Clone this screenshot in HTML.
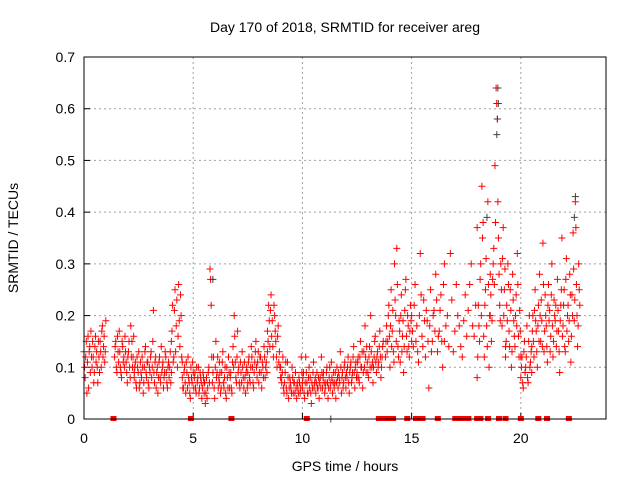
<!DOCTYPE html>
<html><head><meta charset="utf-8"><style>
body{margin:0;background:#fff}
svg{display:block;font-family:"Liberation Sans",sans-serif}
</style></head><body>
<svg id="chart" width="640" height="480">
<rect width="640" height="480" fill="#fff"/>
<text x="345" y="32" text-anchor="middle" font-size="14">Day 170 of 2018, SRMTID for receiver areg</text>
<text x="345" y="471" text-anchor="middle" font-size="14">GPS time / hours</text>
<text transform="translate(18,238) rotate(-90)" text-anchor="middle" font-size="14">SRMTID / TECUs</text>
<g id="grid"></g>
<g id="ticks"></g>
<g id="marks"></g>
<rect x="84" y="57" width="522" height="362" fill="none" stroke="#000" stroke-width="1"/>
</svg>
<script>
const xTicks=[0,5,10,15,20];
const yTicks=[0,0.1,0.2,0.3,0.4,0.5,0.6,0.7];
const yTickLabels=["0","0.1","0.2","0.3","0.4","0.5","0.6","0.7"];
const segStarts=[0.0,1.4,2.3,4.0,4.5,5.5,6.2,7.5,8.4,9.0,10.0,12.5,13.8,15.0,16.5,18.0,18.6,19.3,20.0,20.5];
const segEnds=[1.0,2.3,4.0,4.5,5.5,6.2,7.5,8.4,9.0,10.0,12.5,13.7,15.0,16.5,18.0,18.6,19.3,20.0,20.5,22.7];
const segValues=[
[0.13,0.08,0.15,0.11,0.06,0.14,0.17,0.10,0.12,0.09,0.16,0.13,0.07,0.12,0.15,0.10,0.18,0.14,0.11,0.19],
[0.12,0.15,0.09,0.13,0.17,0.10,0.08,0.14,0.12,0.16,0.11,0.07,0.13,0.10,0.18,0.15,0.12,0.09],
[0.08,0.11,0.06,0.10,0.13,0.07,0.09,0.12,0.05,0.10,0.14,0.08,0.11,0.06,0.09,0.13,0.10,0.21,0.07,0.12,0.09,0.05,0.11,0.08,0.14,0.10,0.06,0.09,0.12,0.07,0.10,0.08,0.13,0.09],
[0.15,0.22,0.12,0.25,0.18,0.10,0.26,0.14,0.20,0.11],
[0.08,0.06,0.10,0.05,0.09,0.12,0.07,0.04,0.08,0.11,0.06,0.09,0.05,0.07,0.10,0.06,0.08,0.04,0.09,0.07],
[0.05,0.03,0.08,0.06,0.10,0.29,0.22,0.07,0.12,0.04,0.15,0.09,0.06,0.11],
[0.07,0.05,0.09,0.13,0.06,0.10,0.04,0.08,0.12,0.06,0.09,0.05,0.14,0.20,0.11,0.07,0.17,0.10,0.06,0.09,0.13,0.08,0.11,0.05,0.10,0.07],
[0.09,0.12,0.07,0.14,0.10,0.06,0.11,0.15,0.08,0.13,0.09,0.12,0.06,0.10,0.14,0.08,0.11,0.13],
[0.17,0.22,0.14,0.24,0.19,0.12,0.20,0.15,0.10,0.18,0.13,0.08],
[0.10,0.07,0.12,0.05,0.09,0.06,0.11,0.04,0.08,0.06,0.10,0.05,0.07,0.09,0.04,0.06,0.08,0.05,0.12,0.07],
[0.06,0.09,0.04,0.12,0.07,0.05,0.10,0.08,0.03,0.06,0.11,0.07,0.05,0.09,0.06,0.04,0.08,0.12,0.06,0.09,0.05,0.07,0.10,0.04,0.08,0.06,0.11,0.05,0.09,0.07,0.04,0.10,0.06,0.08,0.13,0.05,0.09,0.07,0.11,0.06,0.08,0.12,0.05,0.10,0.07,0.09,0.14,0.06,0.11,0.08],
[0.09,0.12,0.07,0.15,0.10,0.06,0.13,0.18,0.09,0.11,0.08,0.14,0.20,0.10,0.07,0.12,0.16,0.09,0.13,0.11,0.17,0.08,0.12,0.15],
[0.12,0.18,0.15,0.22,0.10,0.25,0.17,0.13,0.30,0.20,0.33,0.14,0.19,0.11,0.24,0.16,0.09,0.21,0.27,0.13,0.18,0.12,0.22,0.15],
[0.20,0.14,0.26,0.18,0.11,0.32,0.16,0.23,0.12,0.19,0.06,0.25,0.15,0.21,0.28,0.13,0.17,0.24,0.10,0.30],
[0.15,0.20,0.32,0.13,0.26,0.18,0.12,0.24,0.21,0.30,0.16,0.37],
[0.08,0.22,0.15,0.30,0.45,0.38,0.12,0.25,0.18,0.42,0.10,0.28],
[0.20,0.15,0.27,0.33,0.49,0.64,0.58,0.35,0.22,0.30,0.18,0.37,0.25,0.14],
[0.12,0.22,0.30,0.17,0.25,0.10,0.28,0.19,0.14,0.24,0.32,0.16,0.21,0.12],
[0.08,0.12,0.06,0.15,0.10,0.18,0.07,0.20,0.11,0.09],
[0.14,0.20,0.12,0.25,0.17,0.10,0.22,0.28,0.15,0.19,0.34,0.13,0.24,0.18,0.11,0.26,0.21,0.16,0.30,0.12,0.23,0.19,0.14,0.27,0.17,0.09,0.22,0.35,0.18,0.25,0.13,0.31,0.20,0.15,0.28,0.11,0.24,0.36,0.19,0.42,0.26,0.14,0.30,0.22]
];
const segValuesB=[
[0.10,0.12,0.05,0.16,0.13,0.09,0.12,0.15,0.07,0.14,0.11,0.10,0.15,0.09,0.13,0.17,0.12,0.16,0.13,0.15],
[0.14,0.10,0.16,0.11,0.13,0.09,0.15,0.11,0.10,0.13,0.09,0.12,0.15,0.08,0.12,0.10,0.16,0.11],
[0.10,0.07,0.12,0.09,0.06,0.11,0.08,0.10,0.07,0.13,0.09,0.11,0.07,0.10,0.12,0.08,0.15,0.09,0.11,0.06,0.10,0.08,0.12,0.07,0.09,0.11,0.08,0.13,0.09,0.06,0.11,0.10,0.07,0.12],
[0.17,0.11,0.21,0.13,0.23,0.16,0.19,0.24,0.12,0.15],
[0.06,0.09,0.07,0.11,0.06,0.08,0.05,0.10,0.07,0.09,0.08,0.06,0.10,0.08,0.05,0.09,0.07,0.06,0.08,0.06],
[0.07,0.05,0.04,0.09,0.07,0.27,0.12,0.09,0.06,0.10,0.08,0.12,0.08,0.07],
[0.09,0.06,0.11,0.07,0.08,0.05,0.10,0.06,0.09,0.08,0.06,0.11,0.10,0.16,0.08,0.12,0.09,0.07,0.11,0.07,0.10,0.06,0.08,0.09,0.06,0.09],
[0.11,0.08,0.10,0.12,0.07,0.09,0.13,0.10,0.11,0.07,0.12,0.09,0.11,0.08,0.12,0.10,0.09,0.12],
[0.15,0.19,0.21,0.16,0.14,0.22,0.17,0.12,0.16,0.11,0.10,0.09],
[0.08,0.09,0.06,0.07,0.11,0.05,0.08,0.06,0.07,0.05,0.08,0.07,0.05,0.06,0.07,0.05,0.07,0.06,0.09,0.08],
[0.08,0.05,0.07,0.09,0.05,0.08,0.06,0.05,0.07,0.09,0.06,0.08,0.07,0.06,0.08,0.07,0.06,0.09,0.08,0.07,0.06,0.09,0.07,0.06,0.10,0.07,0.08,0.07,0.06,0.09,0.07,0.08,0.09,0.07,0.10,0.08,0.06,0.10,0.08,0.09,0.10,0.07,0.09,0.11,0.08,0.12,0.09,0.10,0.08,0.10],
[0.11,0.08,0.12,0.10,0.13,0.09,0.10,0.12,0.14,0.09,0.12,0.10,0.13,0.11,0.10,0.15,0.11,0.12,0.10,0.14,0.12,0.10,0.14,0.11],
[0.15,0.13,0.20,0.16,0.18,0.14,0.21,0.11,0.23,0.15,0.26,0.12,0.17,0.20,0.13,0.19,0.14,0.25,0.16,0.20,0.14,0.17,0.19,0.13],
[0.17,0.22,0.15,0.13,0.20,0.24,0.14,0.19,0.21,0.15,0.18,0.13,0.20,0.17,0.23,0.16,0.21,0.15,0.26,0.19],
[0.18,0.14,0.23,0.17,0.20,0.14,0.19,0.16,0.26,0.18,0.22,0.28],
[0.12,0.18,0.27,0.20,0.35,0.16,0.22,0.31,0.14,0.26,0.20,0.18],
[0.24,0.19,0.30,0.26,0.38,0.61,0.42,0.28,0.19,0.25,0.31,0.20,0.29,0.17],
[0.15,0.19,0.26,0.14,0.21,0.13,0.23,0.16,0.20,0.18,0.26,0.12,0.17,0.10],
[0.10,0.07,0.13,0.09,0.12,0.08,0.15,0.10,0.13,0.12],
[0.17,0.15,0.21,0.19,0.13,0.18,0.15,0.20,0.23,0.14,0.26,0.17,0.20,0.14,0.22,0.19,0.13,0.24,0.18,0.15,0.20,0.22,0.17,0.21,0.13,0.19,0.25,0.16,0.22,0.14,0.27,0.17,0.22,0.19,0.24,0.16,0.20,0.29,0.23,0.37,0.20,0.18,0.25,0.19]
];
const zeroHours=[1.35,4.9,6.75,10.2,13.5,13.65,13.8,14.0,14.15,14.8,15.2,15.35,15.5,16.2,17.0,17.1,17.25,17.4,17.6,18.0,18.15,18.5,19.0,19.3,20.0,20.8,21.2,22.2];
const darkHours=[18.95,18.97,18.93,18.9,22.5,22.45,18.45,5.9,11.3];
const darkValues=[0.64,0.61,0.58,0.55,0.43,0.39,0.39,0.27,0];

const X0=84,X1=606,Y0=419,Y1=57,XMAX=23.9,YMAX=0.7;
const xs=h=>X0+h/XMAX*(X1-X0);
const ys=v=>Y0-v/YMAX*(Y0-Y1);
const NS="http://www.w3.org/2000/svg";
const grid=document.getElementById('grid'),ticks=document.getElementById('ticks'),marks=document.getElementById('marks');
function mk(tag,attrs,parent){const e=document.createElementNS(NS,tag);for(const k in attrs)e.setAttribute(k,attrs[k]);parent.appendChild(e);return e;}
xTicks.forEach(t=>{
  const x=xs(t);
  if(t>0){const g=mk('line',{x1:x,x2:x,y1:Y1,y2:Y0,stroke:'#a0a0a0','stroke-dasharray':'2,3'},grid);
  
  }
  const l=mk('text',{x:x,y:443,'text-anchor':'middle','font-size':'14'},ticks);l.textContent=String(t);
  
  
  mk('line',{x1:x,x2:x,y1:Y0,y2:Y0-6,stroke:'#000'},ticks);
});
yTicks.forEach((t,i)=>{
  const y=ys(t);
  if(t>0&&t<0.7){const g=mk('line',{x1:X0,x2:X1,y1:y,y2:y,stroke:'#a0a0a0','stroke-dasharray':'2,3'},grid);
  
  }
  const l=mk('text',{x:75,y:y+5,'text-anchor':'end','font-size':'14'},ticks);l.textContent=yTickLabels[i];
  
  
  mk('line',{x1:X0,x2:X0+6,y1:y,y2:y,stroke:'#000'},ticks);
});
function plus(h,v,color){
  const x=xs(h),y=ys(v);
  const p=mk('path',{d:`M${x-3.5},${y}H${x+3.5}M${x},${y-3.5}V${y+3.5}`,stroke:color,'stroke-width':'1',fill:'none'},marks);
  
  
}
function drawSet(sets,offset){
  for(let s=0;s<sets.length;s++){
    const vals=sets[s],n=vals.length;
    const step=(segEnds[s]-segStarts[s])/Math.max(1,n-1);
    for(let i=0;i<n;i++){
      const h=segStarts[s]+step*(i+offset);
      if(h<=segEnds[s]+0.01) plus(h,vals[i],'#ff0000');
    }
  }
}
drawSet(segValues,0);
drawSet(segValuesB,0.5);
zeroHours.forEach(h=>{
  const x=xs(h);
  const r=mk('rect',{x:x-3,y:Y0-3,width:6,height:5,fill:'#ff0000'},marks);
  
  
});
darkHours.forEach((h,i)=>plus(h,darkValues[i],'#404040'));
</script>
</body></html>
